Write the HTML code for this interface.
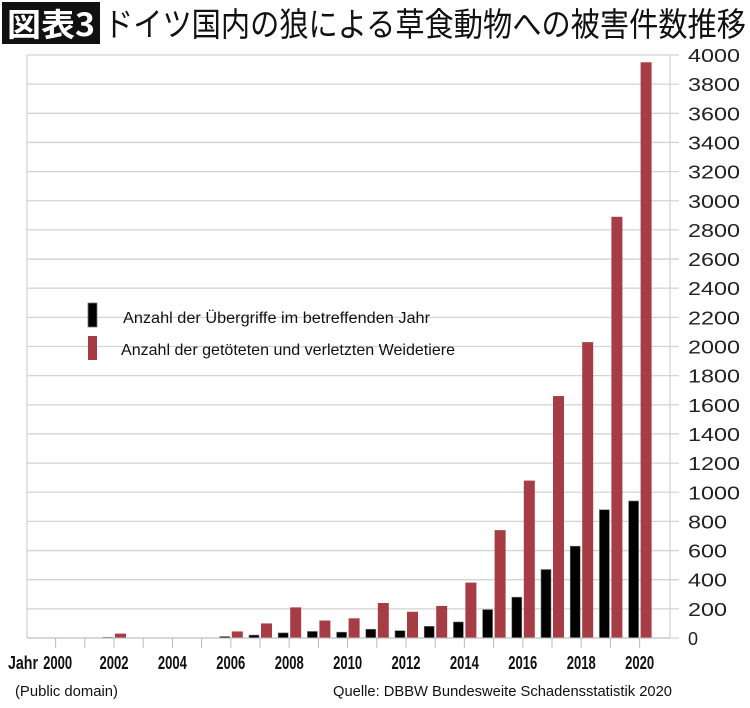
<!DOCTYPE html>
<html><head><meta charset="utf-8"><style>
html,body{margin:0;padding:0;background:#fff;}
svg{display:block;}
</style></head><body>
<svg width="750" height="708" viewBox="0 0 750 708" xmlns="http://www.w3.org/2000/svg">
<rect x="0" y="0" width="750" height="708" fill="#fff"/>
<rect x="2" y="2" width="98" height="42" fill="#111"/>
<text x="51" y="36" text-anchor="middle" fill="#fff" font-family="'Noto Sans CJK JP',sans-serif" font-size="32" font-weight="bold" textLength="88" lengthAdjust="spacingAndGlyphs">図表3</text>
<text x="104" y="36" fill="#111" font-family="'Noto Sans CJK JP',sans-serif" font-size="33" textLength="642" lengthAdjust="spacingAndGlyphs">ドイツ国内の狼による草食動物への被害件数推移</text>
<g stroke="#d4d4d4" stroke-width="1.3">
<line x1="27" y1="55" x2="27" y2="638"/>
<line x1="670" y1="55" x2="670" y2="638"/>
</g>
<g id="grid" stroke="#d4d4d4" stroke-width="1.3"></g>
<g id="labels" font-family="'Liberation Sans',sans-serif" font-size="18" fill="#222"></g>
<g id="bars"></g>
<g id="ticks" stroke="#bbb" stroke-width="1"></g>
<g font-family="'Liberation Sans',sans-serif" font-size="18" font-weight="bold" fill="#111" id="xl">
<text x="8" y="669" textLength="30" lengthAdjust="spacingAndGlyphs">Jahr</text>
</g>
<rect x="88" y="303" width="9" height="24" fill="#000" stroke="#777" stroke-width="0.8"/>
<rect x="88" y="336" width="9" height="24" fill="#a63d45"/>
<text x="123" y="323" font-family="'Liberation Sans',sans-serif" font-size="16" fill="#111" textLength="307" lengthAdjust="spacingAndGlyphs">Anzahl der Übergriffe im betreffenden Jahr</text>
<text x="121" y="355" font-family="'Liberation Sans',sans-serif" font-size="16" fill="#111" textLength="334" lengthAdjust="spacingAndGlyphs">Anzahl der getöteten und verletzten Weidetiere</text>
<text x="15" y="696" font-family="'Liberation Sans',sans-serif" font-size="15" fill="#111" textLength="103" lengthAdjust="spacingAndGlyphs">(Public domain)</text>
<text x="333" y="696" font-family="'Liberation Sans',sans-serif" font-size="15" fill="#111" textLength="339" lengthAdjust="spacingAndGlyphs">Quelle: DBBW Bundesweite Schadensstatistik  2020</text>
<script>
var ns="http://www.w3.org/2000/svg";
function el(p,t,a,txt){var e=document.createElementNS(ns,t);for(var k in a)e.setAttribute(k,a[k]);if(txt)e.textContent=txt;document.getElementById(p).appendChild(e);}
var y0=638,s=583/4000;
for(var v=0;v<=4000;v+=200){var y=y0-v*s;el("grid","line",{x1:27,y1:y,x2:679,y2:y});var L=String(v).length;var a={x:688,y:y+7};if(L>1){a.textLength=L*13;a.lengthAdjust="spacingAndGlyphs";}el("labels","text",a,String(v));}
var data={2002:[5,30],2006:[10,45],2007:[20,100],2008:[35,210],2009:[45,120],2010:[40,135],2011:[60,240],2012:[50,180],2013:[80,220],2014:[110,380],2015:[195,740],2016:[280,1080],2017:[470,1660],2018:[630,2030],2019:[880,2890],2020:[940,3950]};
for(var yr=2000;yr<=2020;yr++){var t=114+(yr-2002)*29.2;
el("ticks","line",{x1:t,y1:638,x2:t,y2:648});
if(yr%2==0)el("xl","text",{x:(yr==2000?t+2:t),y:669,"text-anchor":"middle",textLength:29,lengthAdjust:"spacingAndGlyphs"},String(yr));
var d=data[yr];if(d){var hb=d[0]*s,hr=d[1]*s;
el("bars","rect",{x:t-11,y:y0-hb,width:10,height:hb,fill:"#000",stroke:"#777","stroke-width":0.6});
el("bars","rect",{x:t+1,y:y0-hr,width:11,height:hr,fill:"#a63d45"});}}
el("ticks","line",{x1:27,y1:638,x2:670,y2:638});
</script>
</svg>
</body></html>
